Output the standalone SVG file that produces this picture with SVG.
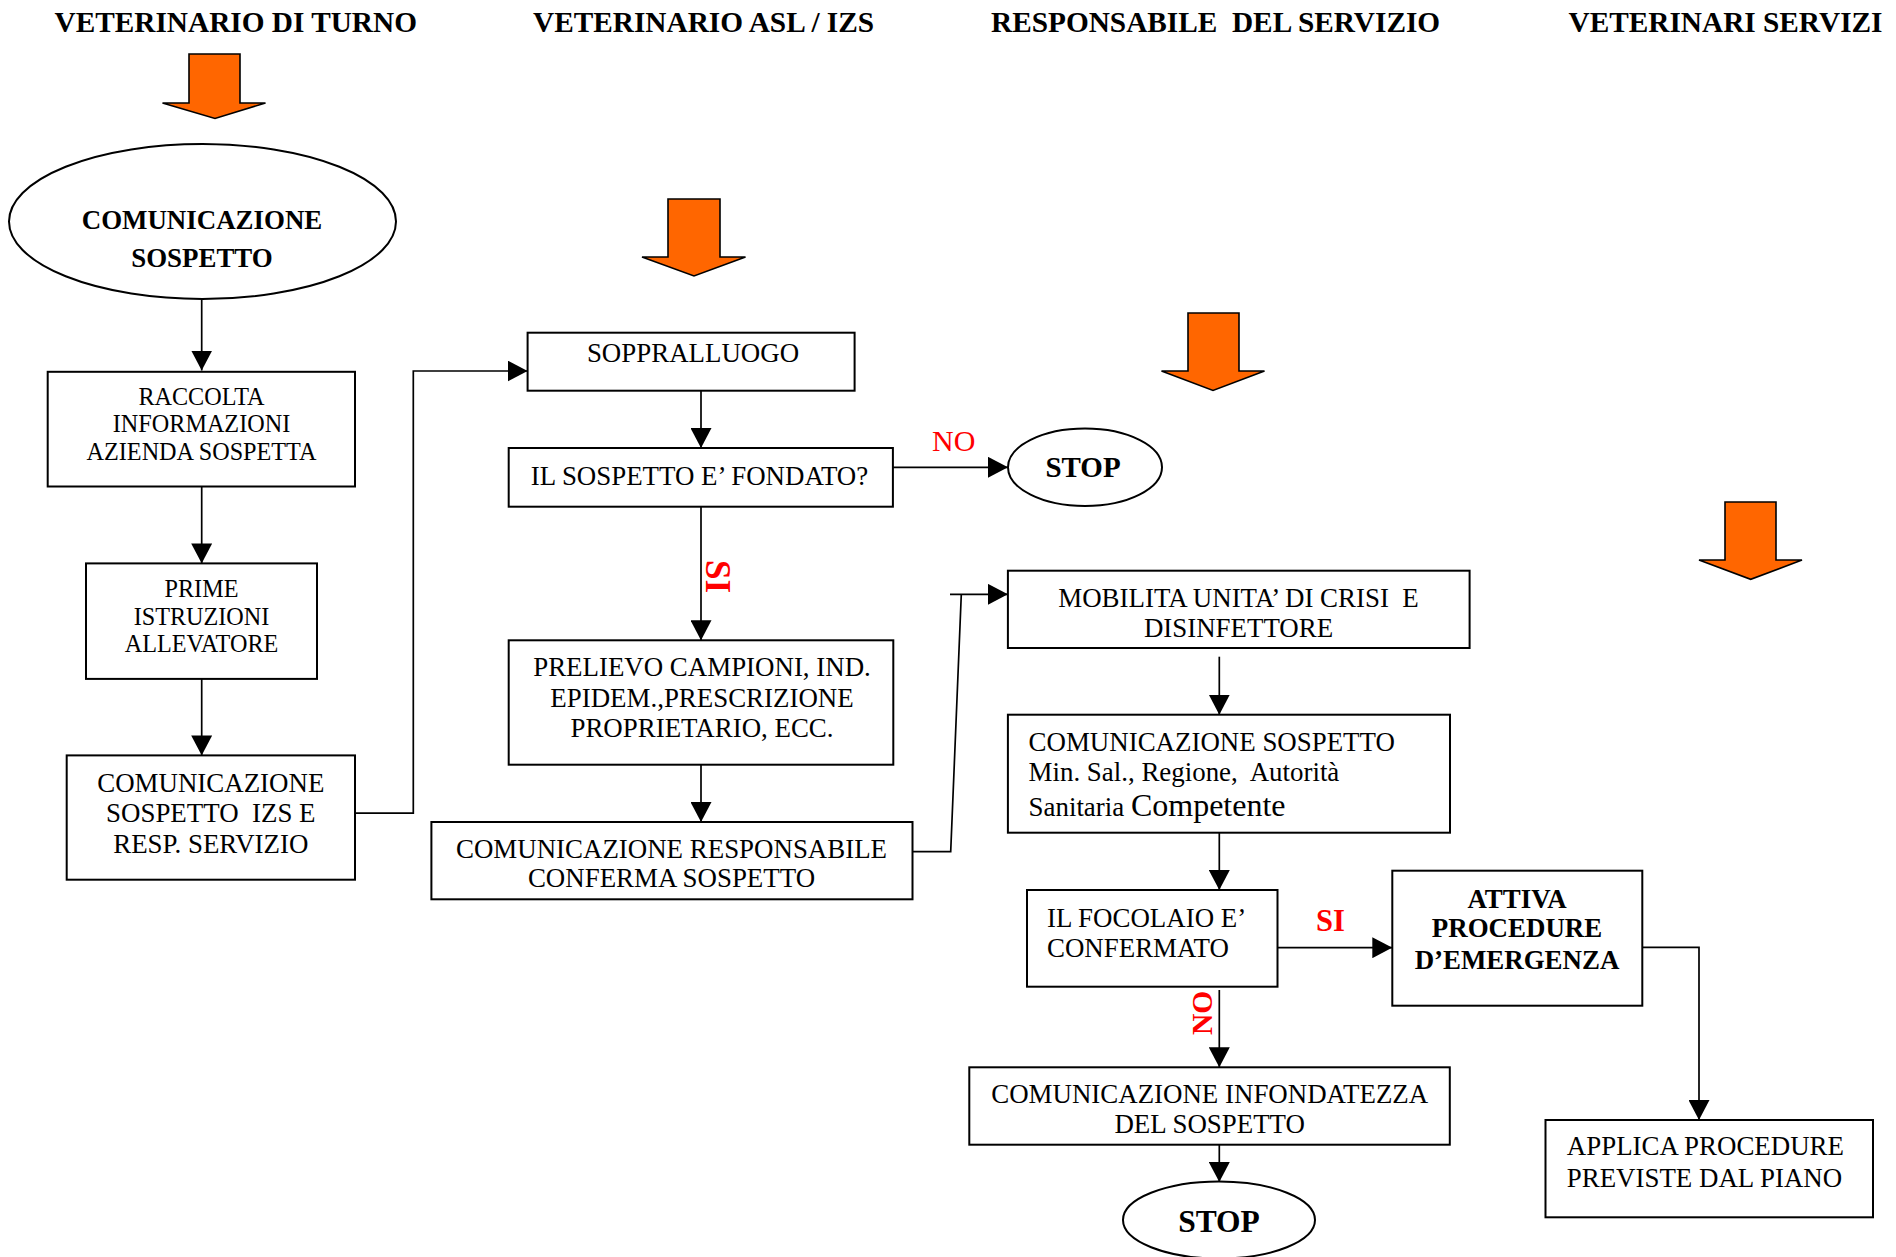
<svg xmlns="http://www.w3.org/2000/svg" width="1896" height="1257" viewBox="0 0 1896 1257">
<style>
text{font-family:"Liberation Serif","Times New Roman",serif;fill:#000;white-space:pre}
.title{font-size:29.3px;font-weight:bold}
.box{fill:#fff;stroke:#000;stroke-width:2}
.blk{fill:#FF6600;stroke:#000;stroke-width:1.6;stroke-linejoin:miter}
.t{font-size:26.9px}
.ts{font-size:24.2px}
.b{font-weight:bold}
.c{text-anchor:middle}
.red{fill:#FF0000}
.con{fill:none;stroke:#000;stroke-width:1.7}
.arr{marker-end:url(#ah)}
</style>
<defs>
<marker id="ah" markerUnits="userSpaceOnUse" markerWidth="20" markerHeight="21" refX="20" refY="10.5" orient="auto">
<path d="M0,0 L20,10.5 L0,21 Z" fill="#000"/>
</marker>
</defs>
<rect width="1896" height="1257" fill="#fff"/>

<g id="titles">
<text class="title" x="54.5" y="32">VETERINARIO DI TURNO</text>
<text class="title" x="533" y="32">VETERINARIO ASL / IZS</text>
<text class="title" x="991" y="32">RESPONSABILE  DEL SERVIZIO</text>
<text class="title" x="1568.5" y="32">VETERINARI SERVIZI</text>
</g>

<g id="block-arrows">
<path class="blk" d="M189,54 H240 V103 H265.5 L215,118.5 L162.5,103 H189 Z"/>
<path class="blk" d="M668,199 H720 V257 H745.5 L694,276 L642,257 H668 Z"/>
<path class="blk" d="M1188,313 H1239 V371 H1264.5 L1213,390.5 L1161.5,371 H1188 Z"/>
<path class="blk" d="M1725,502 H1776 V560 H1802 L1750.7,579.3 L1699,560 H1725 Z"/>
</g>

<g id="connectors">
<path class="con arr" d="M201.7,299 V370.5"/>
<path class="con arr" d="M201.7,486.5 V563.4"/>
<path class="con arr" d="M201.7,679 V755.4"/>
<path class="con arr" d="M355,813.2 H413.3 V371 H527.6"/>
<path class="con arr" d="M701,391 V448"/>
<path class="con arr" d="M893,467.3 H1008"/>
<path class="con arr" d="M701,506.7 V640.3"/>
<path class="con arr" d="M701,764.7 V822"/>
<path class="con arr" d="M912.5,851.7 H950.7 L961.3,594.3 M950,594.3 H1007.9"/>
<path class="con arr" d="M1219.3,656.7 V714.7"/>
<path class="con arr" d="M1219.3,832.7 V890"/>
<path class="con arr" d="M1277.5,947.7 H1392.3"/>
<path class="con arr" d="M1642.3,947.3 H1699 V1120"/>
<path class="con arr" d="M1219.3,990 V1067.3"/>
<path class="con arr" d="M1219.3,1144.7 V1182"/>
<text class="red" x="932" y="450.7" style="font-size:30px">NO</text>
<text class="red b" x="706" y="560" transform="rotate(90 706 560)" style="font-size:35px">SI</text>
<text class="red b" x="1316" y="930.7" style="font-size:30.5px">SI</text>
<text class="red b" x="1211.7" y="1035" transform="rotate(-90 1211.7 1035)" style="font-size:29.5px">NO</text>
</g>

<g id="n-comunicazione-sospetto">
<ellipse class="box" cx="202.5" cy="221.5" rx="193.5" ry="77.5"/>
<text class="t b c" x="202" y="229.3">COMUNICAZIONE</text>
<text class="t b c" x="202" y="266.7">SOSPETTO</text>
</g>

<g id="n-raccolta">
<rect class="box" x="47.7" y="371.8" width="307.3" height="114.7"/>
<text class="ts c" x="201.5" y="405">RACCOLTA</text>
<text class="ts c" x="201.5" y="432">INFORMAZIONI</text>
<text class="ts c" x="201.5" y="460">AZIENDA SOSPETTA</text>
</g>

<g id="n-prime">
<rect class="box" x="86" y="563.4" width="231" height="115.5"/>
<text class="ts c" x="201.5" y="596.7">PRIME</text>
<text class="ts c" x="201.5" y="625.2">ISTRUZIONI</text>
<text class="ts c" x="201.5" y="652.2">ALLEVATORE</text>
</g>

<g id="n-com-izs">
<rect class="box" x="66.7" y="755.4" width="288.3" height="124.3"/>
<text class="t c" x="210.8" y="791.7">COMUNICAZIONE</text>
<text class="t c" x="210.8" y="822">SOSPETTO  IZS E</text>
<text class="t c" x="210.8" y="852.7">RESP. SERVIZIO</text>
</g>

<g id="n-sopralluogo">
<rect class="box" x="527.6" y="332.7" width="327" height="58"/>
<text class="t c" x="693" y="362">SOPPRALLUOGO</text>
</g>

<g id="n-fondato">
<rect class="box" x="508.7" y="448" width="384.2" height="58.7"/>
<text class="t c" x="699.5" y="485">IL SOSPETTO E’ FONDATO?</text>
</g>

<g id="n-stop1">
<ellipse class="box" cx="1085" cy="467.3" rx="77" ry="38.7"/>
<text class="b c" x="1083" y="476.7" style="font-size:29px">STOP</text>
</g>

<g id="n-prelievo">
<rect class="box" x="508.7" y="640.3" width="384.6" height="124.4"/>
<text class="t c" x="702" y="676">PRELIEVO CAMPIONI, IND.</text>
<text class="t c" x="702" y="706.7">EPIDEM.,PRESCRIZIONE</text>
<text class="t c" x="702" y="737.3">PROPRIETARIO, ECC.</text>
</g>

<g id="n-com-resp">
<rect class="box" x="431.4" y="822" width="481.1" height="77.3"/>
<text class="t c" x="671.5" y="857.7">COMUNICAZIONE RESPONSABILE</text>
<text class="t c" x="671.5" y="887.3">CONFERMA SOSPETTO</text>
</g>

<g id="n-mobilita">
<rect class="box" x="1007.9" y="570.7" width="461.7" height="77.3"/>
<text class="t c" x="1238.5" y="606.7">MOBILITA UNITA’ DI CRISI  E</text>
<text class="t c" x="1238.5" y="636.7">DISINFETTORE</text>
</g>

<g id="n-com-sospetto">
<rect class="box" x="1007.9" y="714.7" width="442.1" height="118"/>
<text class="t" x="1028.6" y="751">COMUNICAZIONE SOSPETTO</text>
<text class="t" x="1028.6" y="780.7">Min. Sal., Regione,  Autorità</text>
<text class="t" x="1028.6" y="816">Sanitaria <tspan style="font-size:32px">Competente</tspan></text>
</g>

<g id="n-focolaio">
<rect class="box" x="1027" y="890" width="250.5" height="96.7"/>
<text class="t" x="1047" y="926.7">IL FOCOLAIO E’</text>
<text class="t" x="1047" y="956.7">CONFERMATO</text>
</g>

<g id="n-attiva">
<rect class="box" x="1392.3" y="870.7" width="250" height="135"/>
<text class="t b c" x="1517" y="908.3">ATTIVA</text>
<text class="t b c" x="1517" y="937.3">PROCEDURE</text>
<text class="t b c" x="1517" y="969">D’EMERGENZA</text>
</g>

<g id="n-infondatezza">
<rect class="box" x="969.3" y="1067.3" width="480.5" height="77.4"/>
<text class="t c" x="1209.7" y="1102.7">COMUNICAZIONE INFONDATEZZA</text>
<text class="t c" x="1209.7" y="1133.3">DEL SOSPETTO</text>
</g>

<g id="n-stop2">
<ellipse class="box" cx="1219" cy="1220" rx="96" ry="38.5"/>
<text class="b c" x="1219" y="1232.3" style="font-size:31.5px">STOP</text>
</g>

<g id="n-applica">
<rect class="box" x="1545.5" y="1120" width="327.5" height="97.3"/>
<text class="t" x="1566.8" y="1155">APPLICA PROCEDURE</text>
<text class="t" x="1566.8" y="1186.7">PREVISTE DAL PIANO</text>
</g>
</svg>
